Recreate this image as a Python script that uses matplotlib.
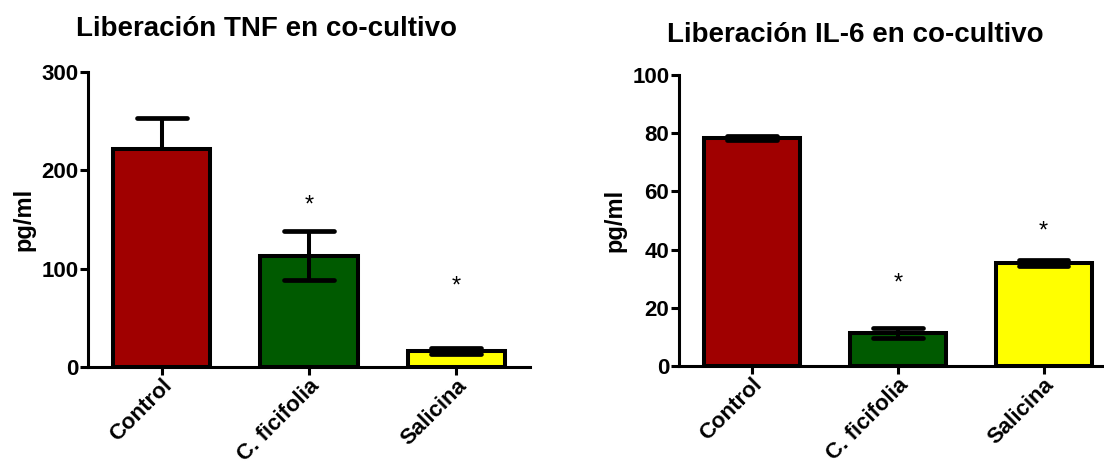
import matplotlib
matplotlib.use("Agg")
import matplotlib.pyplot as plt

plt.rcParams['font.family'] = ['Liberation Sans', 'DejaVu Sans']
plt.rcParams['font.weight'] = 'bold'

groups = ["Control", "C. ficifolia", "Salicina"]
colors = ["#A00000", "#005A00", "#FFFF00"]

# TNF release (pg/ml) with SEM
tnf_mean = [222, 113, 16]
tnf_err_low = [0, 25, 3]
tnf_err_high = [31, 25, 3]
tnf_star = [None, 172, 90]

# IL-6 release (pg/ml) with SEM
il6_mean = [78.3, 11.3, 35.3]
il6_err_low = [0.8, 1.7, 1.0]
il6_err_high = [0.8, 1.7, 1.0]
il6_star = [None, 31, 49]

fig = plt.figure(figsize=(11.04, 4.69), dpi=100)
ax1 = fig.add_axes([88 / 1104, 102 / 469, 442 / 1104, 295 / 469])
ax2 = fig.add_axes([679 / 1104, 103 / 469, 423 / 1104, 291 / 469])

BAR_LW = 2.9
AX_LW = 2.2
CAP_HALF = 0.17


def draw(ax, mean, elow, ehigh, stars, ymax, step, xmax):
    x = list(range(len(groups)))
    ax.bar(x, mean, width=0.66, color=colors, edgecolor="black",
           linewidth=BAR_LW, zorder=2)
    # error bars: whisker plus a cap on each drawn end
    for xi, m, lo, hi in zip(x, mean, elow, ehigh):
        ax.vlines(xi, m - lo, m + hi, color="black", linewidth=2.9, zorder=3)
        for end, e in ((m - lo, lo), (m + hi, hi)):
            if e > 0:
                ax.hlines(end, xi - CAP_HALF, xi + CAP_HALF, color="black",
                          linewidth=3.4, zorder=3, capstyle="round")
    for xi, s in zip(x, stars):
        if s is not None:
            ax.annotate("*", (xi, s), xytext=(0, -10),
                        textcoords="offset points", ha="center",
                        va="baseline", fontsize=17, fontweight="normal")
    ax.set_xlim(-0.5, xmax)
    ax.set_ylim(0, ymax)
    ax.set_yticks(range(0, ymax + 1, step))
    ax.set_xticks(x)
    ax.set_xticklabels(groups, rotation=45, ha="right",
                       rotation_mode="anchor", fontsize=16)
    ax.tick_params(axis="y", labelsize=16, length=6, width=AX_LW, pad=1)
    ax.tick_params(axis="x", length=6, width=AX_LW, pad=0)
    for side in ("top", "right"):
        ax.spines[side].set_visible(False)
    for side in ("left", "bottom"):
        ax.spines[side].set_linewidth(AX_LW)
    ax.set_ylabel("pg/ml", fontsize=17, fontweight="bold", labelpad=4)


draw(ax1, tnf_mean, tnf_err_low, tnf_err_high, tnf_star, 300, 100, 2.5)
draw(ax2, il6_mean, il6_err_low, il6_err_high, il6_star, 100, 20, 2.4)

fig.text(267 / 1104, 1 - 36 / 469, "Liberación TNF en co-cultivo",
         ha="center", va="baseline", fontsize=20, fontweight="bold")
fig.text(855 / 1104, 1 - 42 / 469, "Liberación IL-6 en co-cultivo",
         ha="center", va="baseline", fontsize=20, fontweight="bold")

fig.savefig("out.png", dpi=100)
